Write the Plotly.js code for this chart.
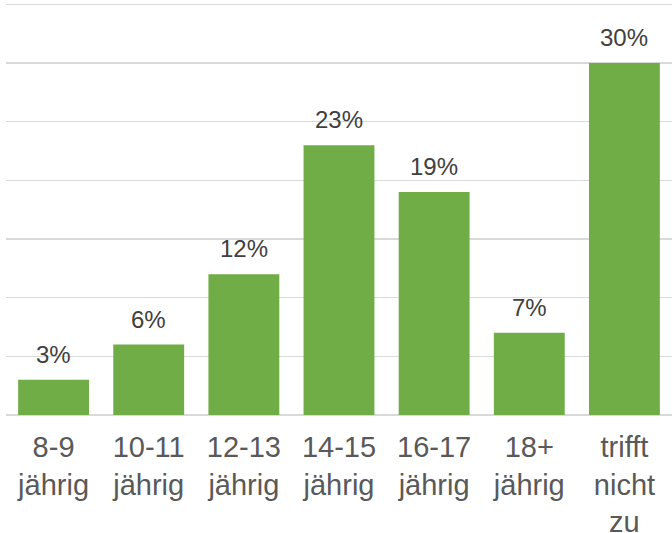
<!DOCTYPE html>
<html>
<head>
<meta charset="utf-8">
<script src="https://cdn.plot.ly/plotly-3.0.1.min.js"></script>
<style>
  html, body { margin: 0; padding: 0; background: #ffffff; }
  #chart { width: 672px; height: 533px; }
</style>
</head>
<body>
<div id="chart"></div>
<script>
// Age groups (category labels, wrapped onto two or three lines)
const categories = [
  "8-9<br>jährig",
  "10-11<br>jährig",
  "12-13<br>jährig",
  "14-15<br>jährig",
  "16-17<br>jährig",
  "18+<br>jährig",
  "trifft<br>nicht<br>zu"
];

// Share of respondents per group, in percent
const shares = [3, 6, 12, 23, 19, 7, 30];

// Labels printed above each bar
const valueLabels = shares.map(v => v + "%");

// Horizontal gridline positions (percent)
const gridValues = [0, 5, 10, 15, 20, 25, 30, 35];

const fontFamily = '"Liberation Sans", Arial, sans-serif';

const trace = {
  type: "bar",
  x: categories,
  y: shares,
  marker: { color: "#70AD47" },
  hoverinfo: "skip",
  cliponaxis: false
};

// Value labels sit a little above the top of each bar
const annotations = categories.map((c, i) => ({
  x: c,
  y: shares[i],
  xref: "x",
  yref: "y",
  text: valueLabels[i],
  showarrow: false,
  yanchor: "bottom",
  yshift: 10,
  font: { family: fontFamily, size: 24, color: "#404040" }
}));

const layout = {
  width: 672,
  height: 533,
  margin: { l: 6, r: 0, t: 2, b: 118, pad: 0 },
  paper_bgcolor: "#ffffff",
  plot_bgcolor: "#ffffff",
  bargap: 0.255,
  showlegend: false,
  font: { family: fontFamily },
  xaxis: {
    type: "category",
    showgrid: false,
    showline: false,
    zeroline: false,
    ticks: "",
    ticklabelstandoff: 12,
    tickfont: { family: fontFamily, size: 29, color: "#595959" }
  },
  yaxis: {
    range: [0, 35.2],
    tickvals: gridValues,
    showticklabels: false,
    ticks: "",
    showgrid: true,
    gridcolor: "#d9d9d9",
    gridwidth: 1.5,
    zeroline: true,
    zerolinecolor: "#d9d9d9",
    zerolinewidth: 1.5,
    showline: false
  },
  annotations: annotations
};

Plotly.newPlot("chart", [trace], layout, { displayModeBar: false, staticPlot: true });
</script>
</body>
</html>
